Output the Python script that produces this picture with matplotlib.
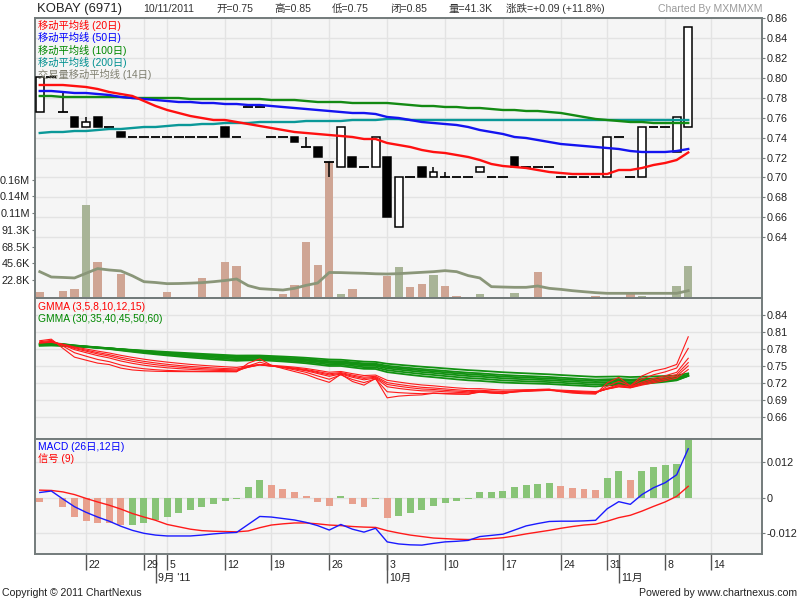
import matplotlib
matplotlib.use("Agg")
import matplotlib.pyplot as plt
from matplotlib.patches import Rectangle

plt.rcParams['font.family'] = ['Liberation Sans', 'Noto Sans CJK SC', 'DejaVu Sans']

# ---------------- data ----------------
xtick_idx = [4, 9, 11, 16, 20, 25, 30, 35, 40, 45, 49, 54, 58]
xtick_labels = ['22', '29', '5', '12', '19', '26', '3', '10', '17', '24', '31', '8', '14']
month_idx = [10, 30, 50]
month_labels = ["9月 '11", '10月', '11月']

opens = [0.765, 0.80, 0.765, 0.76, 0.75, 0.76, 0.75, 0.745, 0.74, 0.74,
         0.74, 0.74, 0.74, 0.74, 0.74, 0.74, 0.75, 0.74, 0.77, 0.77,
         0.74, 0.74, 0.74, 0.73, 0.73, 0.715, 0.71, 0.72, 0.71, 0.71,
         0.72, 0.65, 0.70, 0.71, 0.70, 0.70, 0.70, 0.70, 0.705, 0.70,
         0.70, 0.72, 0.71, 0.71, 0.71, 0.70, 0.70, 0.70, 0.70, 0.70,
         0.74, 0.70, 0.70, 0.75, 0.75, 0.725, 0.75]
highs = [0.80, 0.80, 0.785, 0.76, 0.76, 0.76, 0.75, 0.745, 0.74, 0.74,
         0.74, 0.74, 0.74, 0.74, 0.74, 0.74, 0.75, 0.74, 0.77, 0.77,
         0.74, 0.74, 0.74, 0.74, 0.73, 0.715, 0.75, 0.72, 0.71, 0.74,
         0.72, 0.70, 0.70, 0.71, 0.71, 0.705, 0.70, 0.70, 0.71, 0.70,
         0.70, 0.72, 0.71, 0.71, 0.71, 0.70, 0.70, 0.70, 0.70, 0.74,
         0.74, 0.70, 0.75, 0.75, 0.75, 0.76, 0.85]
lows = [0.765, 0.80, 0.765, 0.75, 0.75, 0.75, 0.75, 0.74, 0.74, 0.74,
        0.74, 0.74, 0.74, 0.74, 0.74, 0.74, 0.74, 0.74, 0.77, 0.77,
        0.74, 0.74, 0.735, 0.73, 0.72, 0.70, 0.71, 0.71, 0.71, 0.71,
        0.66, 0.65, 0.70, 0.70, 0.70, 0.70, 0.70, 0.70, 0.705, 0.70,
        0.70, 0.71, 0.71, 0.71, 0.71, 0.70, 0.70, 0.70, 0.70, 0.70,
        0.74, 0.70, 0.70, 0.75, 0.75, 0.725, 0.75]
closes = [0.80, 0.80, 0.765, 0.75, 0.755, 0.75, 0.75, 0.74, 0.74, 0.74,
          0.74, 0.74, 0.74, 0.74, 0.74, 0.74, 0.74, 0.74, 0.77, 0.77,
          0.74, 0.74, 0.735, 0.73, 0.72, 0.715, 0.75, 0.71, 0.71, 0.74,
          0.66, 0.70, 0.70, 0.70, 0.705, 0.70, 0.70, 0.70, 0.71, 0.70,
          0.70, 0.71, 0.71, 0.71, 0.71, 0.70, 0.70, 0.70, 0.70, 0.74,
          0.74, 0.70, 0.75, 0.75, 0.75, 0.76, 0.85]

volume_k = [6.8, 0, 8.2, 10.5, 125.6, 48, 0, 31.5, 0, 0,
            0, 6.8, 0, 0, 25.6, 0, 48, 42, 0, 0,
            0, 3.7, 16, 75.3, 43.8, 184, 3.7, 10.5, 0, 0,
            28.8, 40.6, 13.2, 17.8, 29.7, 15, 1, 0, 4.1, 0,
            0, 5.5, 0, 34.2, 0, 0, 0, 0, 1, 0,
            0, 3.7, 1, 0, 0, 15, 41.3]
vol_ma14_k = [34.2, 26.9, 26.3, 25.6, 32.0, 38.4, 36.5, 35.2, 28.5, 20.5,
              19.4, 17.8, 18.0, 18.5, 19.2, 20.5, 22.1, 24.2, 15.1, 11.0,
              10.0, 9.1, 11.4, 15.5, 18.7, 33.1, 32.9, 32.4, 32.0, 31.3,
              31.0, 31.5, 32.4, 33.3, 34.2, 35.6, 34.2, 28.8, 25.6, 13.7,
              13.2, 12.8, 12.8, 14.6, 11.4, 10.0, 8.2, 6.8, 5.5, 4.6,
              4.6, 4.6, 4.6, 4.6, 4.6, 4.6, 8.2]
vol_ticks_k = [22.83, 45.66, 68.49, 91.32, 114.15, 136.98, 159.81]
vol_tick_labels = ['22.8K', '45.6K', '68.5K', '91.3K', '0.11M', '0.14M', '0.16M']

ma20 = [0.792, 0.792, 0.792, 0.791, 0.790, 0.788, 0.785, 0.783, 0.781, 0.776,
        0.771, 0.767, 0.764, 0.761, 0.759, 0.757, 0.757, 0.755, 0.753, 0.751,
        0.749, 0.747, 0.745, 0.744, 0.743, 0.742, 0.741, 0.740, 0.738, 0.738,
        0.734, 0.732, 0.730, 0.727, 0.725, 0.724, 0.722, 0.720, 0.717, 0.713,
        0.711, 0.710, 0.709, 0.707, 0.705, 0.704, 0.703, 0.703, 0.703, 0.703,
        0.707, 0.707, 0.709, 0.712, 0.714, 0.717, 0.7245]
ma50 = [0.786, 0.786, 0.785, 0.784, 0.784, 0.783, 0.782, 0.780, 0.779, 0.778,
        0.777, 0.776, 0.775, 0.775, 0.774, 0.774, 0.773, 0.773, 0.772, 0.772,
        0.771, 0.770, 0.769, 0.768, 0.767, 0.766, 0.765, 0.764, 0.764, 0.763,
        0.760, 0.759, 0.757, 0.755, 0.754, 0.753, 0.752, 0.750, 0.747, 0.745,
        0.743, 0.740, 0.739, 0.737, 0.735, 0.733, 0.732, 0.731, 0.730, 0.729,
        0.728, 0.726, 0.725, 0.725, 0.725, 0.726, 0.728]
ma100 = [0.781, 0.781, 0.780, 0.780, 0.780, 0.780, 0.780, 0.780, 0.779, 0.779,
         0.779, 0.779, 0.779, 0.778, 0.778, 0.778, 0.778, 0.778, 0.778, 0.778,
         0.777, 0.777, 0.777, 0.776, 0.775, 0.775, 0.775, 0.774, 0.774, 0.774,
         0.774, 0.773, 0.772, 0.771, 0.771, 0.770, 0.770, 0.769, 0.769, 0.768,
         0.767, 0.767, 0.766, 0.766, 0.765, 0.764, 0.762, 0.760, 0.758, 0.757,
         0.756, 0.755, 0.755, 0.754, 0.754, 0.754, 0.754]
ma200 = [0.744, 0.745, 0.745, 0.746, 0.746, 0.747, 0.748, 0.748, 0.749, 0.750,
         0.750, 0.751, 0.752, 0.752, 0.753, 0.753, 0.754, 0.754, 0.754, 0.755,
         0.755, 0.755, 0.755, 0.756, 0.756, 0.756, 0.756, 0.757, 0.757, 0.757,
         0.758, 0.758, 0.757, 0.757, 0.757, 0.757, 0.757, 0.757, 0.757, 0.757,
         0.757, 0.757, 0.757, 0.757, 0.757, 0.757, 0.757, 0.757, 0.757, 0.757,
         0.757, 0.757, 0.757, 0.757, 0.757, 0.757, 0.757]

# GMMA short-term (3,5,8,10,12,15)
gmma3 = [0.7945, 0.7972, 0.7811, 0.7656, 0.7603, 0.7551, 0.7526, 0.7463, 0.7431, 0.7416,
         0.7408, 0.7404, 0.7402, 0.7401, 0.7400, 0.7400, 0.7400, 0.7400, 0.7550, 0.7625,
         0.7513, 0.7456, 0.7403, 0.7352, 0.7276, 0.7213, 0.7356, 0.7228, 0.7164, 0.7282,
         0.6941, 0.6971, 0.6985, 0.6993, 0.7021, 0.7011, 0.7005, 0.7003, 0.7051, 0.7026,
         0.7013, 0.7056, 0.7078, 0.7089, 0.7095, 0.7047, 0.7024, 0.7012, 0.7006, 0.7203,
         0.7301, 0.7150, 0.7325, 0.7413, 0.7456, 0.7528, 0.8014]
gmma5 = [0.7927, 0.7951, 0.7851, 0.7734, 0.7673, 0.7615, 0.7577, 0.7518, 0.7479, 0.7452,
         0.7435, 0.7423, 0.7416, 0.7410, 0.7407, 0.7405, 0.7403, 0.7402, 0.7501, 0.7568,
         0.7512, 0.7474, 0.7433, 0.7389, 0.7326, 0.7267, 0.7345, 0.7263, 0.7209, 0.7273,
         0.7048, 0.7032, 0.7021, 0.7014, 0.7026, 0.7017, 0.7012, 0.7008, 0.7039, 0.7026,
         0.7017, 0.7045, 0.7063, 0.7075, 0.7084, 0.7056, 0.7037, 0.7025, 0.7017, 0.7144,
         0.7230, 0.7153, 0.7269, 0.7346, 0.7397, 0.7465, 0.7810]
gmma8 = [0.7914, 0.7933, 0.7870, 0.7788, 0.7735, 0.7683, 0.7642, 0.7588, 0.7547, 0.7514,
         0.7489, 0.7469, 0.7454, 0.7442, 0.7432, 0.7425, 0.7420, 0.7415, 0.7479, 0.7528,
         0.7499, 0.7477, 0.7449, 0.7416, 0.7368, 0.7319, 0.7360, 0.7302, 0.7257, 0.7289,
         0.7136, 0.7106, 0.7082, 0.7064, 0.7061, 0.7047, 0.7037, 0.7029, 0.7044, 0.7035,
         0.7027, 0.7043, 0.7056, 0.7066, 0.7073, 0.7057, 0.7044, 0.7034, 0.7027, 0.7110,
         0.7174, 0.7136, 0.7217, 0.7280, 0.7329, 0.7389, 0.7636]
gmma10 = [0.7910, 0.7926, 0.7876, 0.7808, 0.7761, 0.7713, 0.7675, 0.7625, 0.7584, 0.7550,
          0.7523, 0.7501, 0.7482, 0.7467, 0.7455, 0.7445, 0.7437, 0.7430, 0.7479, 0.7519,
          0.7498, 0.7480, 0.7456, 0.7428, 0.7386, 0.7343, 0.7372, 0.7322, 0.7282, 0.7303,
          0.7176, 0.7144, 0.7118, 0.7096, 0.7088, 0.7072, 0.7059, 0.7048, 0.7058, 0.7047,
          0.7039, 0.7050, 0.7059, 0.7066, 0.7072, 0.7059, 0.7048, 0.7040, 0.7032, 0.7099,
          0.7154, 0.7126, 0.7194, 0.7250, 0.7295, 0.7351, 0.7560]
gmma12 = [0.7907, 0.7921, 0.7880, 0.7821, 0.7779, 0.7736, 0.7700, 0.7654, 0.7615, 0.7582,
          0.7554, 0.7530, 0.7510, 0.7493, 0.7479, 0.7467, 0.7456, 0.7448, 0.7487, 0.7519,
          0.7501, 0.7485, 0.7465, 0.7439, 0.7402, 0.7364, 0.7385, 0.7341, 0.7304, 0.7319,
          0.7208, 0.7176, 0.7149, 0.7126, 0.7114, 0.7097, 0.7082, 0.7069, 0.7074, 0.7063,
          0.7053, 0.7061, 0.7066, 0.7072, 0.7076, 0.7064, 0.7054, 0.7046, 0.7039, 0.7094,
          0.7141, 0.7120, 0.7178, 0.7228, 0.7270, 0.7320, 0.7502]
gmma15 = [0.7904, 0.7916, 0.7883, 0.7835, 0.7799, 0.7762, 0.7729, 0.7688, 0.7652, 0.7620,
          0.7593, 0.7569, 0.7548, 0.7529, 0.7513, 0.7499, 0.7487, 0.7476, 0.7504, 0.7528,
          0.7512, 0.7498, 0.7480, 0.7457, 0.7425, 0.7391, 0.7404, 0.7366, 0.7333, 0.7341,
          0.7249, 0.7218, 0.7190, 0.7167, 0.7152, 0.7133, 0.7116, 0.7102, 0.7102, 0.7089,
          0.7078, 0.7081, 0.7083, 0.7085, 0.7087, 0.7076, 0.7067, 0.7058, 0.7051, 0.7095,
          0.7133, 0.7116, 0.7164, 0.7206, 0.7243, 0.7288, 0.7439]
# GMMA long-term (30,35,40,45,50,60)
gmma30 = [0.7897, 0.7904, 0.7887, 0.7862, 0.7842, 0.7820, 0.7799, 0.7774, 0.7750, 0.7727,
          0.7706, 0.7686, 0.7668, 0.7650, 0.7634, 0.7619, 0.7605, 0.7592, 0.7599, 0.7605,
          0.7592, 0.7580, 0.7565, 0.7548, 0.7525, 0.7501, 0.7501, 0.7475, 0.7451, 0.7448,
          0.7393, 0.7368, 0.7344, 0.7322, 0.7304, 0.7285, 0.7266, 0.7249, 0.7239, 0.7224,
          0.7210, 0.7202, 0.7196, 0.7190, 0.7184, 0.7172, 0.7161, 0.7151, 0.7141, 0.7158,
          0.7173, 0.7162, 0.7184, 0.7204, 0.7223, 0.7248, 0.7328]
gmma35 = [0.7887, 0.7893, 0.7879, 0.7858, 0.7841, 0.7822, 0.7804, 0.7782, 0.7761, 0.7741,
          0.7722, 0.7704, 0.7687, 0.7671, 0.7656, 0.7642, 0.7628, 0.7616, 0.7620, 0.7625,
          0.7612, 0.7600, 0.7587, 0.7571, 0.7550, 0.7528, 0.7526, 0.7503, 0.7480, 0.7476,
          0.7427, 0.7403, 0.7381, 0.7360, 0.7343, 0.7324, 0.7306, 0.7289, 0.7278, 0.7263,
          0.7248, 0.7240, 0.7232, 0.7225, 0.7218, 0.7206, 0.7194, 0.7184, 0.7173, 0.7186,
          0.7198, 0.7187, 0.7204, 0.7221, 0.7236, 0.7256, 0.7325]
gmma40 = [0.7886, 0.7891, 0.7880, 0.7861, 0.7846, 0.7829, 0.7813, 0.7793, 0.7774, 0.7755,
          0.7738, 0.7722, 0.7706, 0.7691, 0.7677, 0.7663, 0.7650, 0.7638, 0.7641, 0.7644,
          0.7632, 0.7621, 0.7608, 0.7593, 0.7574, 0.7553, 0.7550, 0.7528, 0.7507, 0.7502,
          0.7458, 0.7436, 0.7415, 0.7394, 0.7378, 0.7359, 0.7342, 0.7325, 0.7314, 0.7299,
          0.7284, 0.7275, 0.7267, 0.7258, 0.7251, 0.7238, 0.7227, 0.7216, 0.7205, 0.7215,
          0.7224, 0.7213, 0.7227, 0.7240, 0.7253, 0.7270, 0.7330]
gmma45 = [0.7876, 0.7881, 0.7871, 0.7855, 0.7842, 0.7827, 0.7813, 0.7795, 0.7777, 0.7761,
          0.7745, 0.7730, 0.7716, 0.7702, 0.7689, 0.7677, 0.7665, 0.7653, 0.7655, 0.7657,
          0.7646, 0.7635, 0.7623, 0.7609, 0.7591, 0.7572, 0.7569, 0.7548, 0.7529, 0.7523,
          0.7483, 0.7462, 0.7442, 0.7423, 0.7407, 0.7389, 0.7372, 0.7356, 0.7345, 0.7330,
          0.7315, 0.7306, 0.7297, 0.7288, 0.7280, 0.7268, 0.7256, 0.7245, 0.7235, 0.7242,
          0.7249, 0.7238, 0.7249, 0.7260, 0.7271, 0.7285, 0.7338]
gmma50 = [0.7865, 0.7871, 0.7862, 0.7848, 0.7836, 0.7823, 0.7810, 0.7794, 0.7779, 0.7764,
          0.7750, 0.7736, 0.7723, 0.7710, 0.7698, 0.7686, 0.7675, 0.7664, 0.7666, 0.7667,
          0.7657, 0.7646, 0.7635, 0.7622, 0.7605, 0.7587, 0.7584, 0.7565, 0.7547, 0.7541,
          0.7504, 0.7484, 0.7465, 0.7447, 0.7431, 0.7415, 0.7398, 0.7383, 0.7372, 0.7357,
          0.7343, 0.7333, 0.7324, 0.7316, 0.7307, 0.7295, 0.7283, 0.7272, 0.7262, 0.7267,
          0.7272, 0.7262, 0.7271, 0.7280, 0.7289, 0.7301, 0.7348]
gmma60 = [0.7855, 0.7860, 0.7853, 0.7841, 0.7832, 0.7821, 0.7810, 0.7797, 0.7784, 0.7771,
          0.7759, 0.7747, 0.7736, 0.7725, 0.7714, 0.7704, 0.7694, 0.7684, 0.7685, 0.7685,
          0.7676, 0.7667, 0.7657, 0.7645, 0.7630, 0.7615, 0.7611, 0.7594, 0.7578, 0.7572,
          0.7540, 0.7522, 0.7505, 0.7488, 0.7474, 0.7458, 0.7443, 0.7428, 0.7417, 0.7404,
          0.7391, 0.7381, 0.7372, 0.7363, 0.7354, 0.7342, 0.7331, 0.7320, 0.7310, 0.7313,
          0.7316, 0.7306, 0.7312, 0.7318, 0.7324, 0.7333, 0.7371]

macd = [0.0017, 0.0022, -0.0005, -0.0031, -0.0050, -0.0066, -0.0080, -0.0097, -0.0111, -0.0121,
        -0.0127, -0.0130, -0.0130, -0.0130, -0.0127, -0.0123, -0.0120, -0.0118, -0.0091, -0.0064,
        -0.0066, -0.0071, -0.0076, -0.0084, -0.0095, -0.0110, -0.0091, -0.0107, -0.0117, -0.0104,
        -0.0150, -0.0157, -0.0160, -0.0161, -0.0155, -0.0150, -0.0148, -0.0145, -0.0132, -0.0128,
        -0.0124, -0.0110, -0.0096, -0.0088, -0.0081, -0.0080, -0.0080, -0.0079, -0.0077, -0.0038,
        -0.0014, -0.0023, 0.0010, 0.0033, 0.0050, 0.0077, 0.0165]
signal = [0.0025, 0.0024, 0.0019, 0.0010, -0.0003, -0.0015, -0.0026, -0.0039, -0.0054, -0.0066,
          -0.0077, -0.0091, -0.0099, -0.0107, -0.0112, -0.0114, -0.0115, -0.0116, -0.0113, -0.0102,
          -0.0093, -0.0089, -0.0086, -0.0086, -0.0089, -0.0093, -0.0095, -0.0098, -0.0100, -0.0101,
          -0.0112, -0.0120, -0.0127, -0.0132, -0.0137, -0.0139, -0.0141, -0.0142, -0.0141, -0.0139,
          -0.0136, -0.0130, -0.0123, -0.0117, -0.0111, -0.0104, -0.0098, -0.0093, -0.0090, -0.0080,
          -0.0068, -0.0060, -0.0046, -0.0030, -0.0015, 0.0004, 0.0038]
hist = [-0.0015, -0.0001, -0.0033, -0.0066, -0.0080, -0.0086, -0.0087, -0.0093, -0.0092, -0.0086,
        -0.0076, -0.0066, -0.0053, -0.0043, -0.0033, -0.0022, -0.0011, -0.0006, 0.0035, 0.0058,
        0.0041, 0.0028, 0.0018, 0.0004, -0.0015, -0.0028, 0.0004, -0.0022, -0.0033, -0.0006,
        -0.0068, -0.0062, -0.0052, -0.0041, -0.0028, -0.0018, -0.0011, -0.0004, 0.0018, 0.0019,
        0.0022, 0.0035, 0.0041, 0.0045, 0.0048, 0.0038, 0.0031, 0.0028, 0.0025, 0.0065,
        0.0089, 0.0058, 0.0089, 0.0102, 0.0109, 0.0115, 0.0205]

price_ticks = [0.64, 0.66, 0.68, 0.70, 0.72, 0.74, 0.76, 0.78, 0.80, 0.82, 0.84, 0.86]
gmma_ticks = [0.66, 0.69, 0.72, 0.75, 0.78, 0.81, 0.84]
macd_ticks = [-0.012, 0, 0.012]
macd_tick_labels = ['-0.012', '0', '0.012']

# ---------------- style ----------------
W, H = 800, 600
BG = '#f5f5f5'
GRID = '#e3e3e3'
FRAME = '#737b7b'
TXT = '#222222'
XL = (-0.41, 62.37)
L = 35 / W
WD = 727 / W
n = len(closes)
idx = list(range(n))

fig = plt.figure(figsize=(8, 6), dpi=100)
fig.patch.set_facecolor('white')


def style_frame(ax):
    for s in ax.spines.values():
        s.set_color(FRAME)
        s.set_linewidth(1.4)


# ---------------- price / volume panel ----------------
ax1 = fig.add_axes([L, 1 - 298 / H, WD, 280 / H])
axv = ax1.twinx()
axc = ax1.twinx()

ax1.set_facecolor(BG)
ax1.set_xlim(*XL)
ax1.set_ylim(0.579, 0.859)
ax1.set_yticks(price_ticks)
ax1.set_yticklabels(['%.2f' % v for v in price_ticks])
ax1.yaxis.tick_right()
ax1.tick_params(axis='y', left=False, labelleft=False, right=True, labelright=True,
                length=2, pad=1.5, labelsize=7.8, colors=TXT, color=FRAME)
ax1.set_xticks(xtick_idx)
ax1.tick_params(axis='x', bottom=False, labelbottom=False)
ax1.grid(True, color=GRID, lw=1)
for s in ax1.spines.values():
    s.set_visible(False)

axv.set_zorder(ax1.get_zorder() + 1)
axv.patch.set_visible(False)
axv.set_ylim(-1.8, 381)
axv.yaxis.tick_left()
axv.set_yticks(vol_ticks_k)
axv.set_yticklabels(vol_tick_labels)
axv.tick_params(axis='y', left=True, labelleft=True, right=False, labelright=False,
                length=2, pad=1.5, labelsize=7.8, colors=TXT, color=FRAME)
for s in axv.spines.values():
    s.set_visible(False)
vol_colors = ['#cfa594'] + ['#a8b497' if closes[i] > closes[i - 1] else '#cfa594' for i in range(1, n)]
axv.bar(idx, volume_k, width=0.72, color=vol_colors, zorder=2)
axv.plot(idx, vol_ma14_k, color='#8a9679', lw=2.0, zorder=3)

axc.set_zorder(ax1.get_zorder() + 2)
axc.patch.set_visible(False)
axc.set_ylim(0.579, 0.859)
axc.set_xlim(*XL)
axc.tick_params(axis='y', right=False, labelright=False, left=False, labelleft=False)
axc.tick_params(axis='x', bottom=False, labelbottom=False)
style_frame(axc)

for i in idx:
    o, h, lo, c = opens[i], highs[i], lows[i], closes[i]
    if abs(o - c) < 1e-9:
        axc.hlines(c, i - 0.42, i + 0.42, color='black', lw=1.3, zorder=3)
        if h > c or lo < c:
            axc.vlines(i, lo, h, color='black', lw=1.1, zorder=3)
    else:
        axc.vlines(i, lo, h, color='black', lw=1.1, zorder=3)
        axc.add_patch(Rectangle((i - 0.34, min(o, c)), 0.68, abs(c - o),
                                facecolor='white' if c > o else 'black',
                                edgecolor='black', lw=1.1, zorder=4))

axc.plot(idx, ma200, color='#0a9898', lw=1.7, zorder=5)
axc.plot(idx, ma100, color='#138a13', lw=1.7, zorder=5)
axc.plot(idx, ma50, color='#1414f0', lw=1.7, zorder=5)
axc.plot(idx, ma20, color='#ff1010', lw=1.7, zorder=5)

# ---------------- GMMA panel ----------------
ax2 = fig.add_axes([L, 1 - 439 / H, WD, 141 / H])
ax2.set_facecolor(BG)
ax2.set_xlim(*XL)
ax2.set_ylim(0.6217, 0.8696)
ax2.set_yticks(gmma_ticks)
ax2.set_yticklabels(['%.2f' % v for v in gmma_ticks])
ax2.yaxis.tick_right()
ax2.tick_params(axis='y', length=2, pad=1.5, labelsize=7.8, colors=TXT, color=FRAME)
ax2.set_xticks(xtick_idx)
ax2.tick_params(axis='x', bottom=False, labelbottom=False)
ax2.grid(True, color=GRID, lw=1)
ax2.set_axisbelow(True)
style_frame(ax2)
for series in (gmma30, gmma35, gmma40, gmma45, gmma50, gmma60):
    ax2.plot(idx, series, color='#129112', lw=1.3, zorder=3)
for series in (gmma3, gmma5, gmma8, gmma10, gmma12, gmma15):
    ax2.plot(idx, series, color='#ff1a1a', lw=0.8, zorder=4)

# ---------------- MACD panel ----------------
ax3 = fig.add_axes([L, 1 - 554 / H, WD, 115 / H])
ax3.set_facecolor(BG)
ax3.set_xlim(*XL)
ax3.set_ylim(-0.0191, 0.0198)
ax3.set_yticks(macd_ticks)
ax3.set_yticklabels(macd_tick_labels)
ax3.yaxis.tick_right()
ax3.tick_params(axis='y', length=2, pad=1.5, labelsize=7.8, colors=TXT, color=FRAME)
ax3.set_xticks(xtick_idx)
ax3.set_xticklabels([])
ax3.set_xticks(month_idx, minor=True)
ax3.xaxis.remove_overlapping_locs = False
ax3.tick_params(axis='x', which='major', length=11.5, width=1, color='#555555', direction='out')
ax3.tick_params(axis='x', which='minor', length=21, width=1, color='#555555', direction='out')
ax3.grid(True, which='major', color=GRID, lw=1)
ax3.set_axisbelow(True)
style_frame(ax3)
hist_colors = ['#e8a08e'] + ['#88c477' if hist[i] >= hist[i - 1] else '#e8a08e' for i in range(1, n)]
ax3.bar(idx, hist, width=0.6, color=hist_colors, zorder=2)
ax3.plot(idx, signal, color='#ff1a1a', lw=1.0, zorder=3)
ax3.plot(idx, macd, color='#1a1aff', lw=1.0, zorder=4)

for xi, lab in zip(xtick_idx, xtick_labels):
    ax3.annotate(lab, xy=(xi, 0), xycoords=('data', 'axes fraction'), xytext=(1.6, -4.2),
                 textcoords='offset points', ha='left', va='top', fontsize=7.6, color=TXT)
for xi, lab in zip(month_idx, month_labels):
    ax3.annotate(lab, xy=(xi, 0), xycoords=('data', 'axes fraction'), xytext=(1.6, -13.6),
                 textcoords='offset points', ha='left', va='top', fontsize=7.6, color=TXT)

# ---------------- texts ----------------
def ftext(x, y, s, **kw):
    fig.text(x / W, 1 - y / H, s, va='center', **kw)


ftext(37, 9, 'KOBAY (6971)', fontsize=9.4, color=TXT)
ftext(143, 9, '10/11/2011', fontsize=7.6, color='#333333')
ftext(216, 9, '开=0.75', fontsize=7.6, color='#333333')
ftext(274, 9, '高=0.85', fontsize=7.6, color='#333333')
ftext(332, 9, '低=0.75', fontsize=7.6, color='#333333')
ftext(390, 9, '闭=0.85', fontsize=7.6, color='#333333')
ftext(448, 9, '量=41.3K', fontsize=7.6, color='#333333')
ftext(506, 9, '涨跌=+0.09 (+11.8%)', fontsize=7.6, color='#333333')
fig.text(763 / W, 1 - 9 / H, 'Charted By MXMMXM', va='center', ha='right', fontsize=7.6, color='#9a9a9a')

ftext(38, 25, '移动平均线 (20日)', fontsize=7.4, color='#ff0000')
ftext(38, 37.3, '移动平均线 (50日)', fontsize=7.4, color='#0000ff')
ftext(38, 50, '移动平均线 (100日)', fontsize=7.4, color='#008800')
ftext(38, 62, '移动平均线 (200日)', fontsize=7.4, color='#009090')
ftext(38, 74, '交易量移动平均线 (14日)', fontsize=7.4, color='#7f7f70')

ftext(38, 307.5, 'GMMA (3,5,8,10,12,15)', fontsize=7.4, color='#ff0000')
ftext(38, 319, 'GMMA (30,35,40,45,50,60)', fontsize=7.4, color='#008800')

ftext(38, 447.5, 'MACD (26日,12日)', fontsize=7.4, color='#0000ff')
ftext(38, 459, '信号 (9)', fontsize=7.4, color='#ff0000')

ftext(2, 593, 'Copyright © 2011 ChartNexus', fontsize=7.6, color=TXT)
fig.text(797 / W, 1 - 593 / H, 'Powered by www.chartnexus.com', va='center', ha='right', fontsize=7.6, color=TXT)

fig.savefig('out.png', dpi=100, facecolor='white')
